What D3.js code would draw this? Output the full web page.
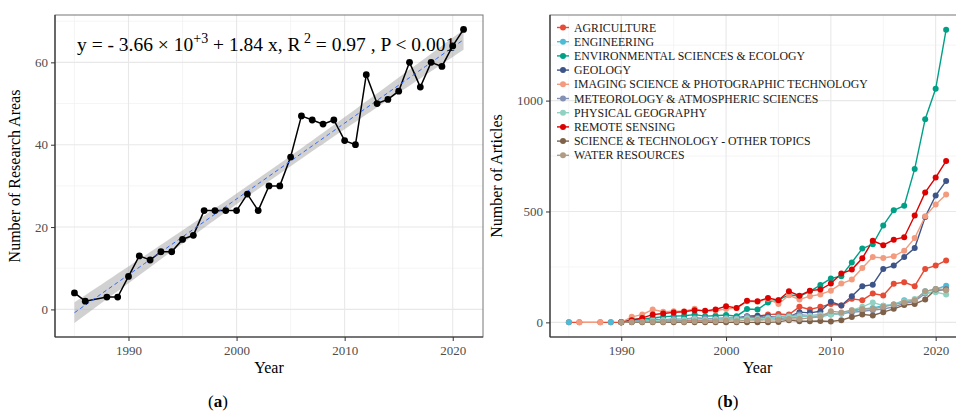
<!DOCTYPE html>
<html>
<head>
<meta charset="utf-8">
<script src="https://cdn.jsdelivr.net/npm/d3@7"></script>
<style>
  body { margin: 0; background: #fff; }
  svg text { font-family: "Liberation Serif", "DejaVu Serif", serif; }
</style>
</head>
<body>
<div class="canvas"></div>
<script>
// Years shared by both panels (no 1987 in the data)
var years = [1985, 1986, 1988, 1989, 1990, 1991, 1992, 1993, 1994, 1995, 1996, 1997, 1998, 1999, 2000,
  2001, 2002, 2003, 2004, 2005, 2006, 2007, 2008, 2009, 2010,
  2011, 2012, 2013, 2014, 2015, 2016, 2017, 2018, 2019, 2020, 2021];

// Panel (a): number of research areas
var researchAreas = [4, 2, 3, 3, 8, 13, 12, 14, 14, 17, 18, 24, 24, 24, 24,
  28, 24, 30, 30, 37, 47, 46, 45, 46, 41,
  40, 57, 50, 51, 53, 60, 54, 60, 59, 64, 68];

// Panel (b): articles per category
var categories = ['AGRICULTURE', 'ENGINEERING', 'ENVIRONMENTAL SCIENCES & ECOLOGY', 'GEOLOGY',
  'IMAGING SCIENCE & PHOTOGRAPHIC TECHNOLOGY', 'METEOROLOGY & ATMOSPHERIC SCIENCES',
  'PHYSICAL GEOGRAPHY', 'REMOTE SENSING', 'SCIENCE & TECHNOLOGY - OTHER TOPICS', 'WATER RESOURCES'];
var colors = ['#E64B35', '#4DBBD5', '#00A087', '#3C5488', '#F39B7F', '#8491B4', '#91D1C2', '#DC0000', '#7E6148', '#B09C85'];

var agriculture = [0, 0, 0, 0, 0, 3, 5, 8, 10, 8, 10, 12, 10, 12, 15,
  15, 25, 28, 35, 38, 35, 70, 58, 70, 83, 76, 106, 100, 130, 121, 174, 181, 163, 241, 256, 279];
var engineering = [0, null, null, 0, null, 5, 8, 15, 12, 12, 15, 20, 15, 18, 20,
  15, 20, 15, 18, 20, 20, 25, 30, 25, 35, 40, 50, 60, 65, 75, 80, 100, 100, 140, 150, 165];
var environmental = [null, null, null, null, 0, 13, 15, 20, 25, 28, 30, 35, 28, 30, 33,
  28, 60, 58, 90, 100, 125, 118, 140, 168, 198, 208, 270, 333, 352, 437, 505, 526, 692, 916, 1053, 1320];
var geology = [null, null, null, null, 0, 3, 5, 10, 12, 10, 12, 15, 12, 15, 15,
  20, 28, 30, 28, 20, 25, 46, 43, 50, 93, 76, 118, 163, 170, 241, 256, 295, 335, 475, 572, 638];
var imaging = [null, 0, 0, null, 0, 25, 35, 58, 48, 50, 50, 61, 50, 53, 60,
  65, 95, 93, 106, 83, 122, 103, 118, 126, 143, 175, 193, 245, 295, 290, 298, 323, 380, 478, 532, 577];
var meteorology = [null, null, null, null, 0, 5, 5, 10, 12, 15, 12, 20, 18, 15, 20,
  18, 25, 20, 22, 25, 30, 35, 30, 35, 38, 40, 45, 50, 55, 60, 70, 85, 95, 130, 140, 150];
var physicalGeography = [null, null, null, null, 0, 3, 5, 8, 10, 10, 12, 15, 12, 14, 15,
  15, 18, 15, 18, 22, 25, 28, 30, 32, 35, 40, 55, 70, 90, 75, 80, 95, 105, 135, 136, 126];
var remoteSensing = [null, null, null, null, 0, 10, 20, 35, 40, 45, 48, 55, 52, 58, 73,
  65, 97, 95, 110, 100, 140, 120, 143, 148, 175, 220, 238, 289, 368, 348, 373, 384, 482, 586, 653, 728];
var sciTech = [null, null, null, null, 0, 0, 0, 0, 0, 0, 0, 0, 0, 0, 0,
  0, 0, 0, 0, 2, 10, 5, 5, 6, 4, 10, 24, 36, 31, 46, 61, 78, 83, 103, 148, 148];
var waterResources = [null, null, null, null, 0, 2, 3, 3, 3, 5, 3, 5, 5, 5, 8,
  5, 10, 12, 10, 12, 15, 15, 20, 25, 50, 45, 55, 60, 60, 70, 80, 90, 100, 140, 150, 145];

var seriesValues = [agriculture, engineering, environmental, geology, imaging,
  meteorology, physicalGeography, remoteSensing, sciTech, waterResources];

var svg = d3.select('.canvas').append('svg').attr('width', 956).attr('height', 412);
svg.append('rect').attr('width', 956).attr('height', 412).attr('fill', '#fff');

// Generic panel: grid, border, axes
function drawPanel(box, x, y, xMajor, xMinor, yMajor, yMinor, yTitle, yTitleX) {
  var g = svg.append('g');
  var clipId = 'clip' + box.left;
  svg.append('clipPath').attr('id', clipId).append('rect')
    .attr('x', box.left).attr('y', box.top)
    .attr('width', box.right - box.left).attr('height', box.bottom - box.top);

  var grid = g.append('g');
  xMinor.forEach(function (v) {
    grid.append('line').attr('x1', x(v)).attr('x2', x(v)).attr('y1', box.top).attr('y2', box.bottom)
      .attr('stroke', '#f0f0f0').attr('stroke-width', 0.7);
  });
  yMinor.forEach(function (v) {
    grid.append('line').attr('y1', y(v)).attr('y2', y(v)).attr('x1', box.left).attr('x2', box.right)
      .attr('stroke', '#f0f0f0').attr('stroke-width', 0.7);
  });
  xMajor.forEach(function (v) {
    grid.append('line').attr('x1', x(v)).attr('x2', x(v)).attr('y1', box.top).attr('y2', box.bottom)
      .attr('stroke', '#e8e8e8').attr('stroke-width', 1.1);
  });
  yMajor.forEach(function (v) {
    grid.append('line').attr('y1', y(v)).attr('y2', y(v)).attr('x1', box.left).attr('x2', box.right)
      .attr('stroke', '#e8e8e8').attr('stroke-width', 1.1);
  });

  // border
  g.append('rect').attr('x', box.left).attr('y', box.top)
    .attr('width', box.right - box.left).attr('height', box.bottom - box.top)
    .attr('fill', 'none').attr('stroke', '#777').attr('stroke-width', 1);

  var xAxisGroup = g.append('g').attr('transform', 'translate(0,' + box.bottom + ')')
    .call(d3.axisBottom(x).tickValues(xMajor).tickSize(4).tickFormat(d3.format('d')));
  var yAxisGroup = g.append('g').attr('transform', 'translate(' + box.left + ',0)')
    .call(d3.axisLeft(y).tickValues(yMajor).tickSize(4).tickFormat(d3.format('d')));
  [xAxisGroup, yAxisGroup].forEach(function (ax) {
    ax.select('.domain').attr('stroke', '#333').attr('stroke-width', 1.2);
    ax.selectAll('.tick line').attr('stroke', '#333');
    ax.selectAll('.tick text').attr('fill', '#4d4d4d').style('font-size', '13px')
      .style('font-family', '"Liberation Serif", serif');
  });
  // keep domain paths straight (no outer ticks)
  xAxisGroup.select('.domain').attr('d', 'M' + box.left + ',0H' + box.right);
  yAxisGroup.select('.domain').attr('d', 'M0,' + box.top + 'V' + box.bottom);
  xAxisGroup.selectAll('.tick text').attr('dy', '0.85em');

  svg.append('text').attr('x', (box.left + box.right) / 2).attr('y', 373)
    .attr('text-anchor', 'middle').style('font-size', '16px').attr('fill', '#000').text('Year');
  svg.append('text').attr('transform', 'translate(' + yTitleX + ',' + ((box.top + box.bottom) / 2) + ') rotate(-90)')
    .attr('text-anchor', 'middle').style('font-size', '16px').attr('fill', '#000').text(yTitle);

  return g.append('g').attr('clip-path', 'url(#' + clipId + ')');
}

// ---------- Panel (a) ----------
var boxA = { left: 55, right: 483, top: 15, bottom: 337 };
var xA = d3.scaleLinear().domain([1983.2, 2022.8]).range([boxA.left, boxA.right]);
var yA = d3.scaleLinear().domain([-6.7, 71.5]).range([boxA.bottom, boxA.top]);
var plotA = drawPanel(boxA, xA, yA, [1990, 2000, 2010, 2020], [1985, 1995, 2005, 2015],
  [0, 20, 40, 60], [10, 30, 50, 70], 'Number of Research Areas', 20);

// linear fit with 95% confidence band
var n = years.length;
var xm = d3.mean(years), ym = d3.mean(researchAreas);
var sxx = d3.sum(years, function (d) { return (d - xm) * (d - xm); });
var sxy = d3.sum(years, function (d, i) { return (d - xm) * (researchAreas[i] - ym); });
var slope = sxy / sxx, intercept = ym - slope * xm;
var sse = d3.sum(years, function (d, i) { var r = researchAreas[i] - (intercept + slope * d); return r * r; });
var s = Math.sqrt(sse / (n - 2));
var tCrit = 2.032;
var fitX = d3.range(1985, 2021.01, 0.5);
var band = fitX.map(function (xv) {
  var f = intercept + slope * xv;
  var se = s * Math.sqrt(1 / n + (xv - xm) * (xv - xm) / sxx);
  return { x: xv, f: f, lo: f - tCrit * se, hi: f + tCrit * se };
});
plotA.append('path').datum(band)
  .attr('d', d3.area().x(function (d) { return xA(d.x); }).y0(function (d) { return yA(d.lo); }).y1(function (d) { return yA(d.hi); }))
  .attr('fill', '#999').attr('fill-opacity', 0.45);

var pairsA = years.map(function (yr, i) { return { x: yr, y: researchAreas[i] }; });
plotA.append('path').datum(pairsA)
  .attr('d', d3.line().x(function (d) { return xA(d.x); }).y(function (d) { return yA(d.y); }))
  .attr('fill', 'none').attr('stroke', '#000').attr('stroke-width', 1.5);
plotA.append('path').datum(band)
  .attr('d', d3.line().x(function (d) { return xA(d.x); }).y(function (d) { return yA(d.f); }))
  .attr('fill', 'none').attr('stroke', '#3366FF').attr('stroke-width', 1).attr('stroke-dasharray', '4,3');
plotA.selectAll('circle').data(pairsA).enter().append('circle')
  .attr('cx', function (d) { return xA(d.x); }).attr('cy', function (d) { return yA(d.y); })
  .attr('r', 3.4).attr('fill', '#000');

// equation label
var eq = svg.append('text').attr('x', 77).attr('y', 51).style('font-size', '19.5px').attr('fill', '#000');
eq.append('tspan').text('y = - 3.66 \u00d7 10');
eq.append('tspan').attr('dy', -8).style('font-size', '14px').text('+3');
eq.append('tspan').attr('dy', 8).text(' + 1.84  x, R');
eq.append('tspan').attr('dy', -8).style('font-size', '14px').text(' 2');
eq.append('tspan').attr('dy', 8).text(' = 0.97 , P < 0.001');

// ---------- Panel (b) ----------
var boxB = { left: 550, right: 965, top: 15, bottom: 337 };
var xB = d3.scaleLinear().domain([1983.2, 2022.8]).range([boxB.left, boxB.right]);
var yB = d3.scaleLinear().domain([-66, 1386]).range([boxB.bottom, boxB.top]);
var plotB = drawPanel(boxB, xB, yB, [1990, 2000, 2010, 2020], [1985, 1995, 2005, 2015],
  [0, 500, 1000], [250, 750, 1250], 'Number of Articles', 502);

var lineB = d3.line()
  .defined(function (d) { return d.y !== null; })
  .x(function (d) { return xB(d.x); }).y(function (d) { return yB(d.y); });

var seriesData = categories.map(function (c, k) {
  return years.map(function (yr, i) { return { x: yr, y: seriesValues[k][i] }; });
});
seriesData.forEach(function (pts, k) {
  plotB.append('path').datum(pts).attr('d', lineB)
    .attr('fill', 'none').attr('stroke', colors[k]).attr('stroke-width', 1.4);
});
seriesData.forEach(function (pts, k) {
  plotB.append('g').selectAll('circle').data(pts.filter(function (d) { return d.y !== null; }))
    .enter().append('circle')
    .attr('cx', function (d) { return xB(d.x); }).attr('cy', function (d) { return yB(d.y); })
    .attr('r', 3).attr('fill', colors[k]);
});

// legend
var legend = svg.append('g');
categories.forEach(function (c, k) {
  var ly = 27.5 + k * 14.2;
  legend.append('line').attr('x1', 557).attr('x2', 569).attr('y1', ly).attr('y2', ly)
    .attr('stroke', colors[k]).attr('stroke-width', 1.4);
  legend.append('circle').attr('cx', 563).attr('cy', ly).attr('r', 3).attr('fill', colors[k]);
  legend.append('text').attr('x', 574).attr('y', ly).attr('dy', '0.35em')
    .style('font-size', '11.8px').attr('fill', '#1a1a1a').text(c);
});

// captions
function caption(xc, letter) {
  var t = svg.append('text').attr('x', xc).attr('y', 407).attr('text-anchor', 'middle')
    .style('font-size', '17px').attr('fill', '#000');
  t.append('tspan').text('(');
  t.append('tspan').style('font-weight', 'bold').text(letter);
  t.append('tspan').text(')');
}
caption(218, 'a');
caption(728, 'b');
</script>
</body>
</html>
